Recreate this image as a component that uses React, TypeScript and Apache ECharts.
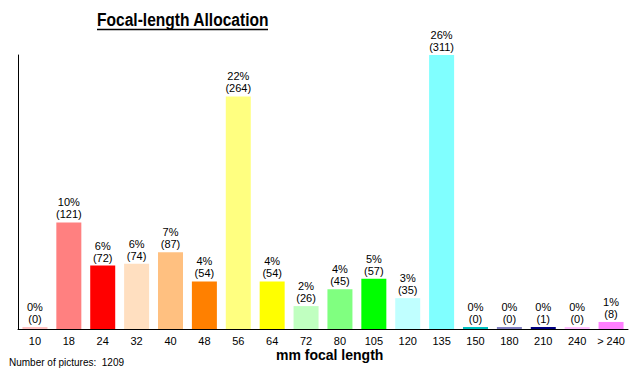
import React, { useEffect, useRef } from "react";
import * as echarts from "echarts";

const categories = ["10", "18", "24", "32", "40", "48", "56", "64", "72", "80", "105", "120", "135", "150", "180", "210", "240", "> 240"];
const counts = [0, 121, 72, 74, 87, 54, 264, 54, 26, 45, 57, 35, 311, 0, 0, 1, 0, 8];
const barColors = ["#ffc0c0", "#ff8080", "#ff0000", "#ffdfc0", "#ffc080", "#ff8000", "#ffff80", "#ffff00", "#c0ffc0", "#80ff80", "#00ff00", "#c0ffff", "#80ffff", "#00c0c0", "#8080c0", "#000080", "#ffc0ff", "#ff80ff"];
const totalPictures = 1209;
const titleText = "Focal-length Allocation";
const xAxisName = "mm focal length";

export default function App() {
  const ref = useRef<HTMLDivElement>(null);
  useEffect(() => {
    if (!ref.current) return;
    const chart = echarts.init(ref.current, null, { renderer: "svg" });
    chart.setOption({
      animation: false,
      backgroundColor: "#ffffff",
      textStyle: { fontFamily: "Arial, 'Liberation Sans', sans-serif" },
      grid: { left: 18, right: 12, top: 55, bottom: 41, containLabel: false },
      xAxis: {
        type: "category",
        data: categories,
        axisLine: { show: true, lineStyle: { color: "#000", width: 1 } },
        axisTick: { show: false },
        axisLabel: { color: "#000", fontSize: 11, margin: 6, fontFamily: "Arial, 'Liberation Sans', sans-serif", interval: 0 },
        splitLine: { show: false },
      },
      yAxis: {
        type: "value",
        min: 0,
        max: 311,
        axisLine: { show: true, lineStyle: { color: "#000", width: 1 } },
        axisTick: { show: false },
        axisLabel: { show: false },
        splitLine: { show: false },
      },
      series: [
        {
          type: "bar",
          barWidth: 25,
          barMinHeight: 2,
          data: counts.map((v, i) => ({ value: v, itemStyle: { color: barColors[i] } })),
          label: {
            show: true,
            position: "top",
            distance: 2,
            color: "#000",
            fontSize: 11,
            lineHeight: 12,
            fontFamily: "Arial, 'Liberation Sans', sans-serif",
            formatter: (p: any) => `${Math.round((p.value / totalPictures) * 100)}%\n(${p.value})`,
          },
        },
      ],
      graphic: [
        {
          type: "text",
          x: 97,
          y: 10,
          scaleX: 0.82,
          style: { text: titleText, font: "bold 19px Arial, 'Liberation Sans', sans-serif", fill: "#000", textVerticalAlign: "top" },
        },
        {
          type: "line",
          shape: { x1: 97, y1: 29.5, x2: 268, y2: 29.5 },
          style: { stroke: "#000", lineWidth: 1.5 },
        },
        {
          type: "text",
          left: 276,
          top: 348,
          style: { text: xAxisName, font: "bold 14px Arial, 'Liberation Sans', sans-serif", fill: "#000" },
        },
        {
          type: "text",
          left: 9,
          top: 357,
          style: { text: `Number of pictures:  ${totalPictures}`, font: "10px Arial, 'Liberation Sans', sans-serif", fill: "#000" },
        },
      ],
    });
    return () => chart.dispose();
  }, []);
  return <div ref={ref} style={{ width: 640, height: 370, position: "absolute", left: 0, top: 0 }} />;
}
